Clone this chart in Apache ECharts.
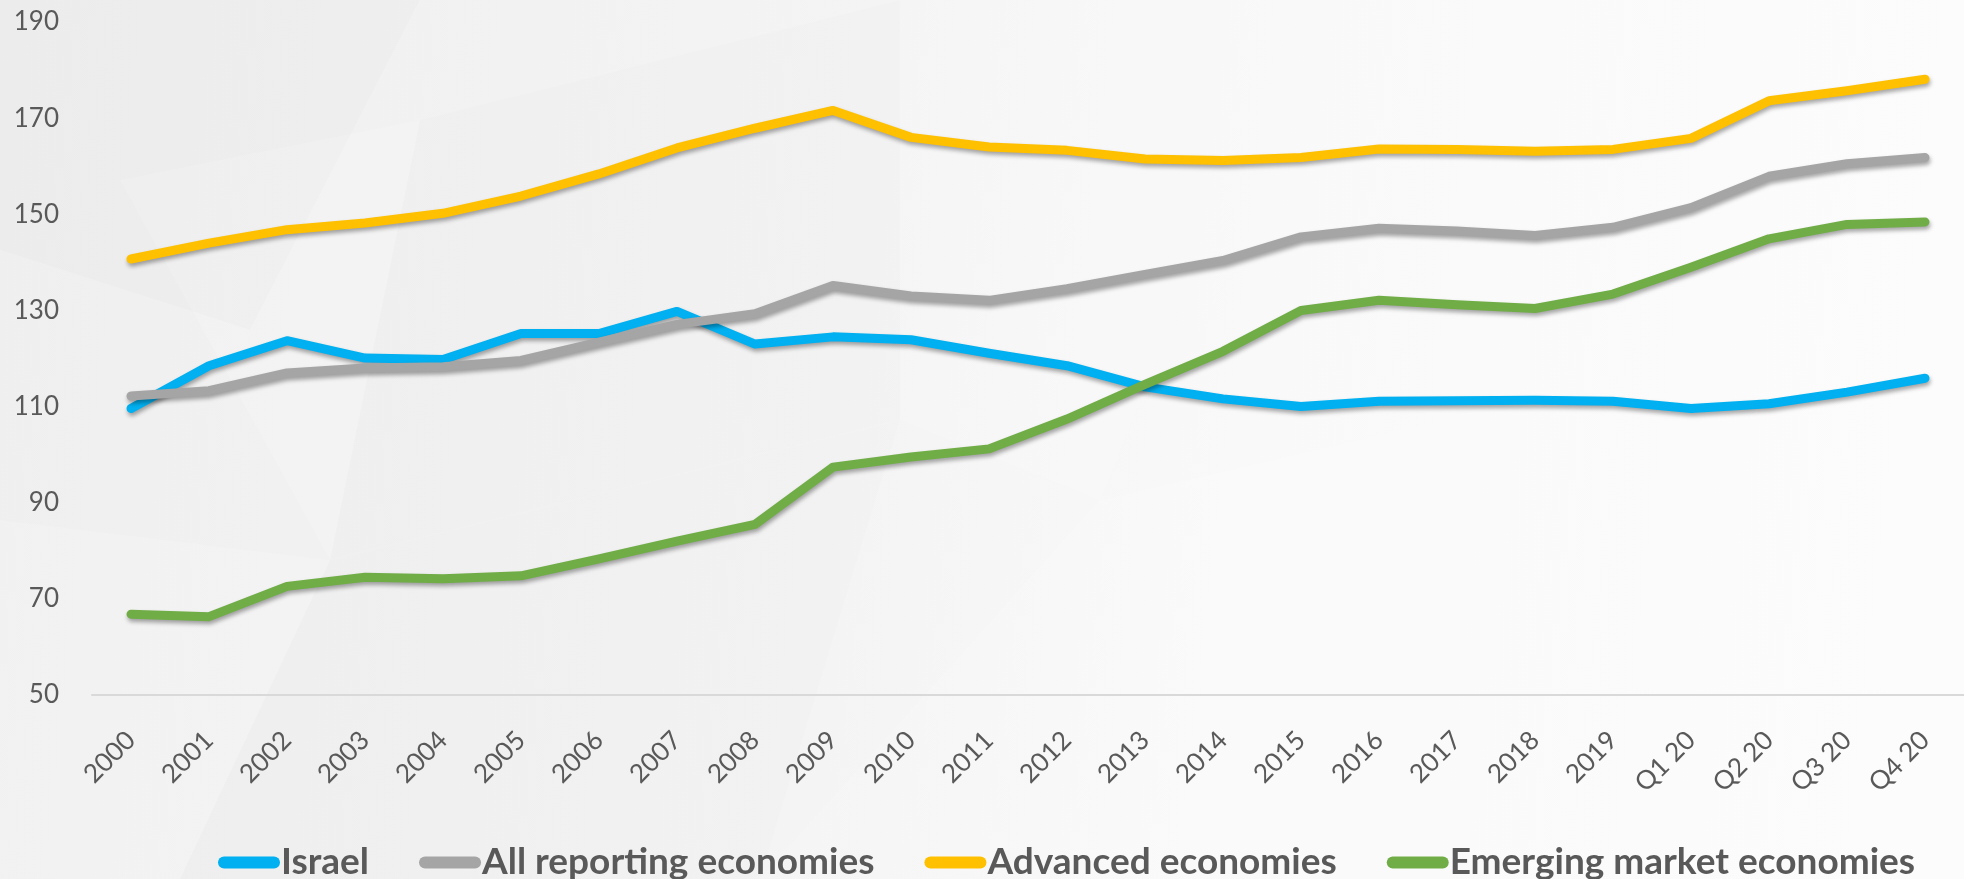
<!DOCTYPE html>
<html>
<head>
<meta charset="utf-8">
<script src="https://cdn.jsdelivr.net/npm/echarts@6/dist/echarts.min.js"></script>
<style>
  html, body { margin: 0; padding: 0; background: #f4f4f4; }
  #chart { width: 1964px; height: 879px; }
</style>
</head>
<body>
<div id="chart"></div>
<script>
// Debt index by economy group, 2000 to Q4 2020
const categories = ['2000','2001','2002','2003','2004','2005','2006','2007','2008','2009',
  '2010','2011','2012','2013','2014','2015','2016','2017','2018','2019',
  'Q1 20','Q2 20','Q3 20','Q4 20'];

const israel = [109.6,118.5,123.7,120.1,119.8,125.2,125.2,129.8,123.0,124.5,
  123.9,121.1,118.5,114.1,111.6,110.0,111.1,111.2,111.3,111.1,
  109.6,110.6,113.0,115.9];

const allReporting = [112.2,113.3,117.0,118.0,118.3,119.6,123.4,127.1,129.3,135.2,
  133.0,132.1,134.5,137.5,140.4,145.3,147.1,146.5,145.6,147.3,
  151.4,157.9,160.5,161.8];

const advanced = [140.7,144.0,146.8,148.2,150.2,153.8,158.4,163.8,167.9,171.6,
  166.0,164.0,163.3,161.5,161.2,161.8,163.6,163.5,163.1,163.5,
  165.8,173.6,175.7,178.1];

const emerging = [66.8,66.3,72.6,74.5,74.2,74.8,78.3,82.0,85.5,97.4,
  99.5,101.2,107.4,114.6,121.5,130.0,132.1,131.2,130.4,133.4,
  139.0,144.9,147.9,148.4];

const seriesNames = ['Israel', 'All reporting economies', 'Advanced economies', 'Emerging market economies'];
const seriesColors = ['#00B0F0', '#A5A5A5', '#FFC000', '#70AD47'];
const seriesData = [israel, allReporting, advanced, emerging];

const FONT = 'Lato, "Source Sans Pro", "Noto Sans", sans-serif';
const TEXT = '#595959';

const chart = echarts.init(document.getElementById('chart'), null, { renderer: 'canvas' });

// soft low-poly backdrop: a left-to-right fade with very faint facets on top
const facets = [
  { pts: [[0,0],[420,0],[250,330],[0,250]], c: 'rgba(0,0,0,0.010)' },
  { pts: [[120,180],[420,120],[330,560]], c: 'rgba(255,255,255,0.14)' },
  { pts: [[0,520],[330,560],[180,879],[0,879]], c: 'rgba(255,255,255,0.14)' },
  { pts: [[330,560],[900,420],[760,879],[180,879]], c: 'rgba(0,0,0,0.008)' },
  { pts: [[420,120],[900,0],[900,420],[330,560]], c: 'rgba(0,0,0,0.006)' },
  { pts: [[900,0],[1300,0],[1100,500],[900,420]], c: 'rgba(255,255,255,0.12)' },
  { pts: [[1100,500],[1964,300],[1964,879],[760,879]], c: 'rgba(255,255,255,0.15)' }
];

chart.setOption({
  backgroundColor: {
    type: 'linear', x: 0, y: 0, x2: 1, y2: 0.25,
    colorStops: [
      { offset: 0, color: '#efefef' },
      { offset: 0.45, color: '#f4f4f4' },
      { offset: 0.65, color: '#f9f9f9' },
      { offset: 1, color: '#fcfcfc' }
    ]
  },
  graphic: facets.map(s => ({
    type: 'polygon',
    silent: true,
    z: -10,
    shape: { points: s.pts },
    style: { fill: s.c }
  })),
  textStyle: { fontFamily: FONT },
  grid: { left: 92, top: 22, width: 1886, height: 673, containLabel: false },
  legend: {
    data: seriesNames,
    left: 213,
    top: 839,
    itemGap: 50,
    itemWidth: 62,
    itemHeight: 12,
    icon: 'path://M6 0H56A6 6 0 0 1 56 12H6A6 6 0 0 1 6 0Z',
    textStyle: { fontFamily: FONT, fontSize: 37, fontWeight: 'bold', color: TEXT, padding: [0, 0, 0, -4] }
  },
  xAxis: {
    type: 'category',
    data: categories,
    boundaryGap: true,
    axisLine: { show: true, lineStyle: { color: '#d9d9d9', width: 2 } },
    axisTick: { show: false },
    axisLabel: {
      rotate: 45,
      margin: 41,
      interval: 0,
      fontFamily: FONT,
      fontSize: 26,
      color: TEXT
    },
    splitLine: { show: false }
  },
  yAxis: {
    type: 'value',
    min: 50,
    max: 190,
    interval: 20,
    axisLine: { show: false },
    axisTick: { show: false },
    splitLine: { show: false },
    axisLabel: { margin: 33, fontFamily: FONT, fontSize: 26, color: TEXT }
  },
  series: seriesNames.map((name, i) => ({
    name: name,
    type: 'line',
    data: seriesData[i],
    symbol: 'none',
    smooth: false,
    color: seriesColors[i],
    lineStyle: {
      width: 9,
      color: seriesColors[i],
      cap: 'round',
      join: 'round',
      shadowColor: 'rgba(0,0,0,0.35)',
      shadowBlur: 4,
      shadowOffsetX: 1,
      shadowOffsetY: 3
    },
    emphasis: { disabled: true },
    z: 2 + i
  })),
  animation: false
});
</script>
</body>
</html>
